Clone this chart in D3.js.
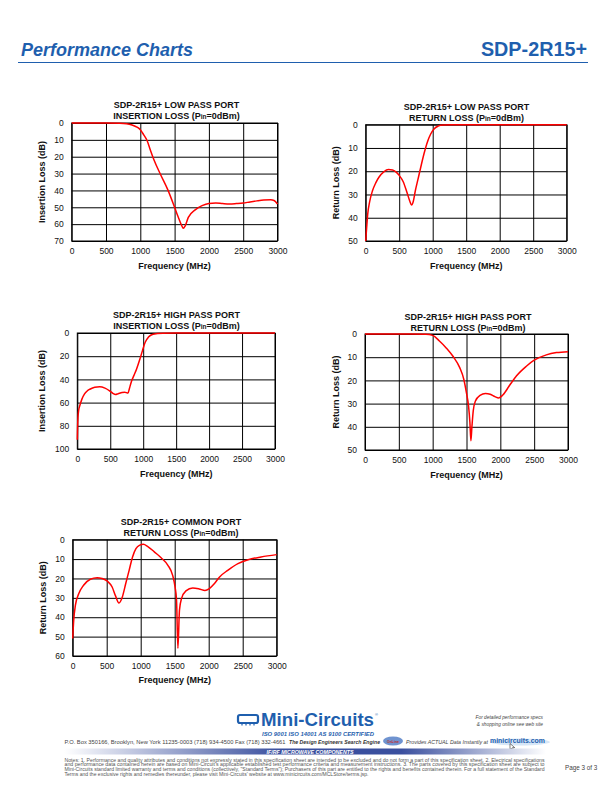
<!DOCTYPE html>
<html>
<head>
<meta charset="utf-8">
<script src="https://cdn.jsdelivr.net/npm/d3@7"></script>
<style>
  html, body { margin: 0; padding: 0; background: #fff; }
  svg { display: block; font-family: "Liberation Sans", Arial, sans-serif; }
</style>
</head>
<body>
<svg id="page" width="612" height="792"></svg>
<script>
// ---------------- DATA ----------------
const xTicks = [0, 500, 1000, 1500, 2000, 2500, 3000];

// Low pass port insertion loss
const lpInsFreq = [0, 200, 500, 700, 800, 880, 950, 1000, 1050, 1100, 1150, 1200, 1300, 1400, 1500, 1550, 1600, 1627, 1655, 1700, 1800, 1900, 2000, 2100, 2200, 2300, 2400, 2500, 2600, 2700, 2800, 2900, 2950, 3000];
const lpInsLoss = [0, 0, 0, 0.1, 0.4, 1.2, 2.4, 4, 7, 10.5, 16.5, 22, 31, 39.5, 50, 55.5, 60.5, 62.5, 61, 56, 51.5, 49, 47.7, 47.5, 47.8, 48, 47.8, 47.5, 46.8, 46.2, 45.7, 45.5, 46, 48];

// Low pass port return loss
const lpRetFreq = [0, 15, 30, 60, 100, 150, 200, 270, 340, 400, 450, 500, 560, 620, 660, 685, 710, 740, 780, 820, 870, 920, 970, 1020, 1080, 1150, 1300, 2000, 3000];
const lpRetLoss = [50, 44, 38.5, 33, 28.5, 25, 22.5, 20.3, 19.3, 19.5, 20.3, 21.8, 24.5, 29.5, 33, 34.5, 33, 28.5, 23.5, 18.5, 12.5, 7.5, 4, 1.8, 0.6, 0.1, 0, 0, 0];

// High pass port insertion loss
const hpInsFreq = [0, 5, 10, 20, 36, 70, 110, 150, 190, 265, 340, 420, 490, 540, 580, 620, 680, 720, 770, 790, 820, 860, 900, 950, 990, 1030, 1080, 1150, 1300, 1500, 2000, 3000];
const hpInsLoss = [92, 80, 73, 67, 63, 57, 52.5, 50, 48.5, 46.7, 46.3, 47.5, 49.8, 52, 53, 52.3, 51.2, 51, 51.8, 48, 42, 36.5, 31, 22.5, 15, 8, 3.5, 1, 0.2, 0, 0, 0];

// High pass port return loss
const hpRetFreq = [0, 500, 900, 1000, 1100, 1200, 1300, 1400, 1460, 1500, 1530, 1550, 1565, 1580, 1600, 1630, 1700, 1780, 1850, 1920, 1975, 2040, 2140, 2240, 2380, 2500, 2680, 2830, 3000];
const hpRetLoss = [0, 0, 0.1, 0.6, 3, 6, 9.6, 14.5, 19.5, 25.5, 31, 38, 46, 40, 33, 29, 26.5, 25.7, 26, 27, 27.6, 26.2, 22, 18, 14, 11.3, 9, 8, 7.6];

// Common port return loss
const comRetFreq = [0, 15, 40, 90, 160, 260, 360, 430, 510, 580, 630, 680, 730, 780, 830, 880, 930, 980, 1040, 1100, 1200, 1300, 1400, 1470, 1505, 1527, 1547, 1570, 1600, 1665, 1765, 1860, 1945, 2010, 2085, 2160, 2280, 2430, 2580, 2770, 3000];
const comRetLoss = [51, 41.5, 33.8, 27.8, 23.5, 20.4, 19.6, 20, 21.4, 24.4, 29, 32.6, 29.5, 22.6, 15.8, 8.9, 4.6, 2.9, 2.4, 3.4, 6.3, 9.3, 13.2, 18.4, 24.4, 31.2, 56, 36.4, 30.4, 26.4, 24.9, 25.4, 26.2, 25.2, 22.6, 19.2, 15.8, 12.3, 10.3, 8.9, 7.7];

const yTicksIL70 = [0, 10, 20, 30, 40, 50, 60, 70];
const yTicksRL50 = [0, 10, 20, 30, 40, 50];
const yTicksIL100 = [0, 20, 40, 60, 80, 100];
const yTicksRL60 = [0, 10, 20, 30, 40, 50, 60];

// ---------------- DRAW ----------------
const svg = d3.select("#page");
const BLUE = "#1f5fae";

// Header
svg.append("text").attr("x", 21).attr("y", 56)
  .attr("font-size", 18).attr("font-weight", "bold").attr("font-style", "italic")
  .attr("fill", BLUE).text("Performance Charts");
svg.append("text").attr("x", 587).attr("y", 56).attr("text-anchor", "end")
  .attr("font-size", 19.8).attr("font-weight", "bold")
  .attr("fill", BLUE).text("SDP-2R15+");
svg.append("line").attr("x1", 18).attr("x2", 588).attr("y1", 62.5).attr("y2", 62.5)
  .attr("stroke", BLUE).attr("stroke-width", 1.2);

function drawChart(cfg) {
  const g = svg.append("g");
  const w = cfg.x1 - cfg.x0, h = cfg.y1 - cfg.y0;
  const x = d3.scaleLinear().domain([0, 3000]).range([cfg.x0, cfg.x1]);
  const y = d3.scaleLinear().domain([0, cfg.yMax]).range([cfg.y0, cfg.y1]);

  // gridlines + tick labels
  const xa = g.append("g").attr("transform", `translate(0,${cfg.y1})`)
    .call(d3.axisBottom(x).tickValues(xTicks).tickSizeInner(-h).tickSizeOuter(0).tickPadding(7).tickFormat(d3.format("d")));
  const ya = g.append("g").attr("transform", `translate(${cfg.x0},0)`)
    .call(d3.axisLeft(y).tickValues(cfg.yTicks).tickSizeInner(-w).tickSizeOuter(0).tickPadding(8).tickFormat(d3.format("d")));
  [xa, ya].forEach(a => {
    a.select(".domain").remove();
    a.selectAll("line").attr("stroke", "#000").attr("stroke-width", 1);
    a.selectAll("text").attr("font-size", 8.5).attr("fill", "#111")
      .attr("font-family", "'Liberation Sans', Arial, sans-serif");
  });

  // frame
  g.append("rect").attr("x", cfg.x0).attr("y", cfg.y0).attr("width", w).attr("height", h)
    .attr("fill", "none").attr("stroke", "#000").attr("stroke-width", 1);

  // curve
  const pts = cfg.freq.map((f, i) => [f, cfg.vals[i]]);
  const line = d3.line().x(d => x(d[0])).y(d => y(d[1])).curve(d3.curveMonotoneX);
  g.append("path").datum(pts).attr("d", line)
    .attr("fill", "none").attr("stroke", "#ff0000").attr("stroke-width", 1.5)
    .attr("stroke-linejoin", "round");

  // titles
  g.append("text").attr("x", cfg.tx).attr("y", cfg.t1).attr("text-anchor", "middle")
    .attr("font-size", 9).attr("font-weight", "bold").attr("fill", "#111").text(cfg.title1);
  const t2 = g.append("text").attr("x", cfg.tx).attr("y", cfg.t2).attr("text-anchor", "middle")
    .attr("font-size", 9).attr("font-weight", "bold").attr("fill", "#111");
  t2.append("tspan").text(cfg.title2 + " (P");
  t2.append("tspan").attr("font-size", 6.5).text("in");
  t2.append("tspan").text("=0dBm)");

  // axis labels
  g.append("text").attr("x", (cfg.x0 + cfg.x1) / 2).attr("y", cfg.xl).attr("text-anchor", "middle")
    .attr("font-size", 9).attr("font-weight", "bold").attr("fill", "#111").text("Frequency (MHz)");
  g.append("text").attr("transform", `translate(${cfg.yl},${(cfg.y0 + cfg.y1) / 2}) rotate(-90)`)
    .attr("text-anchor", "middle").attr("font-size", 9).attr("font-weight", "bold").attr("fill", "#111")
    .text(cfg.ylabel);
}

drawChart({ x0: 71.7, x1: 277.5, y0: 123, y1: 241, yMax: 70, yTicks: yTicksIL70,
  freq: lpInsFreq, vals: lpInsLoss, tx: 176.5, t1: 107.7, t2: 119,
  title1: "SDP-2R15+ LOW PASS PORT", title2: "INSERTION LOSS", ylabel: "Insertion Loss (dB)", yl: 45, xl: 269 });
drawChart({ x0: 365.7, x1: 566.7, y0: 124.7, y1: 241, yMax: 50, yTicks: yTicksRL50,
  freq: lpRetFreq, vals: lpRetLoss, tx: 466.5, t1: 110, t2: 121,
  title1: "SDP-2R15+ LOW PASS PORT", title2: "RETURN LOSS", ylabel: "Return Loss (dB)", yl: 338.5, xl: 268.5 });
drawChart({ x0: 77.3, x1: 275, y0: 333, y1: 449, yMax: 100, yTicks: yTicksIL100,
  freq: hpInsFreq, vals: hpInsLoss, tx: 176.5, t1: 317.7, t2: 329,
  title1: "SDP-2R15+ HIGH PASS PORT", title2: "INSERTION LOSS", ylabel: "Insertion Loss (dB)", yl: 45, xl: 476.7 });
drawChart({ x0: 365, x1: 568, y0: 334, y1: 450, yMax: 50, yTicks: yTicksRL50,
  freq: hpRetFreq, vals: hpRetLoss, tx: 468, t1: 320, t2: 331,
  title1: "SDP-2R15+ HIGH PASS PORT", title2: "RETURN LOSS", ylabel: "Return Loss (dB)", yl: 338.5, xl: 477.7 });
drawChart({ x0: 72.7, x1: 276.7, y0: 539.7, y1: 656, yMax: 60, yTicks: yTicksRL60,
  freq: comRetFreq, vals: comRetLoss, tx: 181, t1: 525, t2: 536,
  title1: "SDP-2R15+ COMMON PORT", title2: "RETURN LOSS", ylabel: "Return Loss (dB)", yl: 45.5, xl: 683.3 });

// ---------------- FOOTER ----------------
const defs = svg.append("defs");
const grad = defs.append("linearGradient").attr("id", "band").attr("x1", "0").attr("x2", "1").attr("y1", "0").attr("y2", "0");
grad.append("stop").attr("offset", "0").attr("stop-color", "#ffffff");
grad.append("stop").attr("offset", "0.45").attr("stop-color", "#3a4f9e");
grad.append("stop").attr("offset", "0.7").attr("stop-color", "#3a4f9e");
grad.append("stop").attr("offset", "1").attr("stop-color", "#ffffff");

const f = svg.append("g");
// logo icon
f.append("rect").attr("x", 238).attr("y", 715).attr("width", 20).attr("height", 8).attr("rx", 2)
  .attr("fill", "none").attr("stroke", BLUE).attr("stroke-width", 2.2);
[242, 246, 250, 254].forEach(px => f.append("rect").attr("x", px - 0.6).attr("y", 723.5).attr("width", 1.2).attr("height", 2).attr("fill", BLUE));
f.append("text").attr("x", 261).attr("y", 726).attr("font-size", 19).attr("font-weight", "bold")
  .attr("fill", BLUE).attr("textLength", 113).attr("lengthAdjust", "spacingAndGlyphs").text("Mini-Circuits");
f.append("text").attr("x", 375).attr("y", 716).attr("font-size", 4).attr("fill", BLUE).text("®");
f.append("text").attr("x", 262).attr("y", 735.5).attr("font-size", 6).attr("font-weight", "bold").attr("font-style", "italic")
  .attr("fill", BLUE).attr("textLength", 112).attr("lengthAdjust", "spacingAndGlyphs")
  .text("ISO 9001  ISO 14001  AS 9100 CERTIFIED");

f.append("text").attr("x", 543).attr("y", 718.5).attr("text-anchor", "end").attr("font-size", 4.8).attr("font-style", "italic")
  .attr("fill", "#444").text("For detailed performance specs");
f.append("text").attr("x", 543).attr("y", 725.5).attr("text-anchor", "end").attr("font-size", 4.8).attr("font-style", "italic")
  .attr("fill", "#444").text("& shopping online see web site");

f.append("text").attr("x", 64.5).attr("y", 743.5).attr("font-size", 5.3).attr("fill", "#444")
  .attr("textLength", 221).attr("lengthAdjust", "spacingAndGlyphs")
  .text("P.O. Box 350166, Brooklyn, New York 11235-0003 (718) 934-4500  Fax (718) 332-4661");
f.append("text").attr("x", 289).attr("y", 743.5).attr("font-size", 5.3).attr("font-style", "italic").attr("font-weight", "bold")
  .attr("fill", "#333").attr("textLength", 91).attr("lengthAdjust", "spacingAndGlyphs")
  .text("The Design Engineers Search Engine");
f.append("ellipse").attr("cx", 393).attr("cy", 741).attr("rx", 10).attr("ry", 4.5).attr("fill", "#6f93d0");
f.append("text").attr("x", 393).attr("y", 742.5).attr("text-anchor", "middle").attr("font-size", 3.5).attr("font-weight", "bold")
  .attr("fill", "#c0302a").text("OnLine");
f.append("text").attr("x", 406).attr("y", 743.5).attr("font-size", 5.3).attr("font-style", "italic")
  .attr("fill", "#444").attr("textLength", 82).attr("lengthAdjust", "spacingAndGlyphs")
  .text("Provides ACTUAL Data Instantly at");
f.append("ellipse").attr("cx", 520).attr("cy", 742).attr("rx", 30).attr("ry", 3.5).attr("fill", "#d6e6f7");
f.append("text").attr("x", 490).attr("y", 742.5).attr("font-size", 6.8).attr("font-weight", "bold")
  .attr("fill", BLUE).attr("textLength", 55).attr("lengthAdjust", "spacingAndGlyphs").text("minicircuits.com");
f.append("path").attr("d", "M510,743.5 l0,6 l1.5,-1.5 l1.2,2.5 l1,-0.5 l-1.2,-2.4 l2.2,0 z")
  .attr("fill", "#fff").attr("stroke", "#000").attr("stroke-width", 0.5);

f.append("rect").attr("x", 64).attr("y", 748.5).attr("width", 482).attr("height", 6).attr("fill", "url(#band)");
f.append("text").attr("x", 310).attr("y", 753.5).attr("text-anchor", "middle").attr("font-size", 5.3)
  .attr("font-style", "italic").attr("font-weight", "bold").attr("fill", "#fff").text("IF/RF MICROWAVE COMPONENTS");

const notes = [
  ["Notes: 1. Performance and quality attributes and conditions not expressly stated in this specification sheet are intended to be excluded and do not form a part of this specification sheet.    2. Electrical specifications", 480],
  ["and performance data contained herein are based on Mini-Circuit's applicable established test performance criteria and measurement instructions.    3. The parts covered by this specification sheet are subject to", 480],
  ["Mini-Circuits standard limited warranty and terms and conditions (collectively, \"Standard Terms\"); Purchasers of this part are entitled to the rights and benefits contained therein. For a full statement of the Standard", 480],
  ["Terms and the exclusive rights and remedies thereunder, please visit Mini-Circuits' website at www.minicircuits.com/MCLStore/terms.jsp.", 304]
];
notes.forEach((n, i) => {
  f.append("text").attr("x", 64.5).attr("y", 761.5 + i * 4.8).attr("font-size", 4.9).attr("fill", "#555")
    .attr("textLength", n[1]).attr("lengthAdjust", "spacingAndGlyphs").text(n[0]);
});
f.append("text").attr("x", 565).attr("y", 770).attr("font-size", 6.3).attr("fill", "#444").text("Page 3 of 3");
</script>
</body>
</html>
